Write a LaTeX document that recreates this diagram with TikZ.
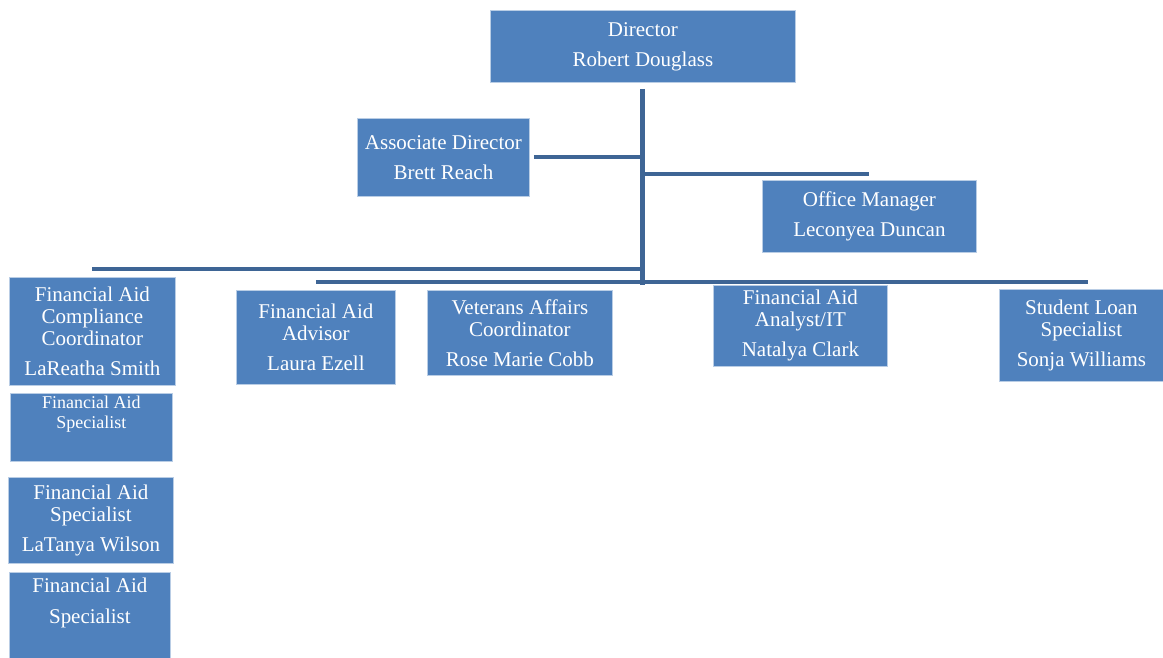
\documentclass[tikz,border=0pt]{standalone}
\usepackage{fontspec}
\setmainfont{Liberation Serif}
\usetikzlibrary{calc}
\definecolor{boxfill}{HTML}{4F81BD}
\definecolor{linec}{HTML}{3E6595}
\definecolor{boxedge}{HTML}{B9CDE5}
\tikzset{
  box/.style={fill=boxfill, draw=boxedge, line width=0.8pt, anchor=north west,
    inner sep=0pt, text=white, align=center, font=\fontsize{21}{22}\selectfont},
  boxtext/.style={text=white, align=center, inner sep=0pt, font=\fontsize{21}{22}\selectfont},
  smalltext/.style={text=white, align=center, inner sep=0pt, font=\fontsize{18}{20}\selectfont},
  conn/.style={draw=linec, line width=4pt},
  trunkline/.style={draw=linec, line width=5pt},
}
\begin{document}
\begin{tikzpicture}[x=1pt,y=-1pt]
\useasboundingbox (0,0) rectangle (1163,658);

% boxes
\node[box, minimum width=305, minimum height=72] (dir) at (490,10) {Director\\[8pt]Robert Douglass};
\node[box, minimum width=172, minimum height=78] (asc) at (357,118) {Associate Director\\[8pt]Brett Reach};
\node[box, minimum width=214, minimum height=72] (off) at (762,180) {Office Manager\\[8pt]Leconyea Duncan};

\node[box, minimum width=166, minimum height=108] (comp) at (9,277) {Financial Aid\\Compliance\\Coordinator\\[8pt]LaReatha Smith};
\node[box, minimum width=162, minimum height=68] (spa) at (10,393) {};
\node[smalltext] (spatext) at ($(spa.north)+(0,21)$) {Financial Aid\\Specialist};
\node[box, minimum width=165, minimum height=86] (spb) at (8,477) {Financial Aid\\Specialist\\[8pt]LaTanya Wilson};
\node[box, minimum width=161, minimum height=92] (spc) at (9,572) {};
\node[boxtext] (spctext) at ($(spc.north)+(0,30.5)$) {Financial Aid\\[9pt]Specialist};

\node[box, minimum width=159, minimum height=94] (adv) at (236,290) {Financial Aid\\Advisor\\[8pt]Laura Ezell};
\node[box, minimum width=185, minimum height=85] (vet) at (427,290) {Veterans Affairs\\Coordinator\\[8pt]Rose Marie Cobb};
\node[box, minimum width=174, minimum height=81] (ana) at (713,285) {Financial Aid\\Analyst/IT\\[8pt]Natalya Clark};
\node[box, minimum width=164, minimum height=92] (stu) at (999,289) {Student Loan\\Specialist\\[8pt]Sonja Williams};

% connector points
\coordinate (trunktop) at ($(dir.south)+(0,6)$);
\coordinate (trunkbot) at (trunktop |- 0,285);
\coordinate (offj) at (trunktop |- 0,174);
\coordinate (leftj) at (trunktop |- 0,269);
\coordinate (lowj) at (0,282);
\coordinate (lowend) at (1088,282);

% connectors
\draw[trunkline] (trunktop) -- (trunkbot);
\draw[conn] ($(asc.east)+(4,0)$) -- (trunktop |- asc.east);
\draw[conn] (offj) -- (off.north |- offj);
\draw[conn] (comp.north |- leftj) -- (leftj);
\draw[conn] (adv.north |- lowj) -- (lowend);
\end{tikzpicture}
\end{document}
